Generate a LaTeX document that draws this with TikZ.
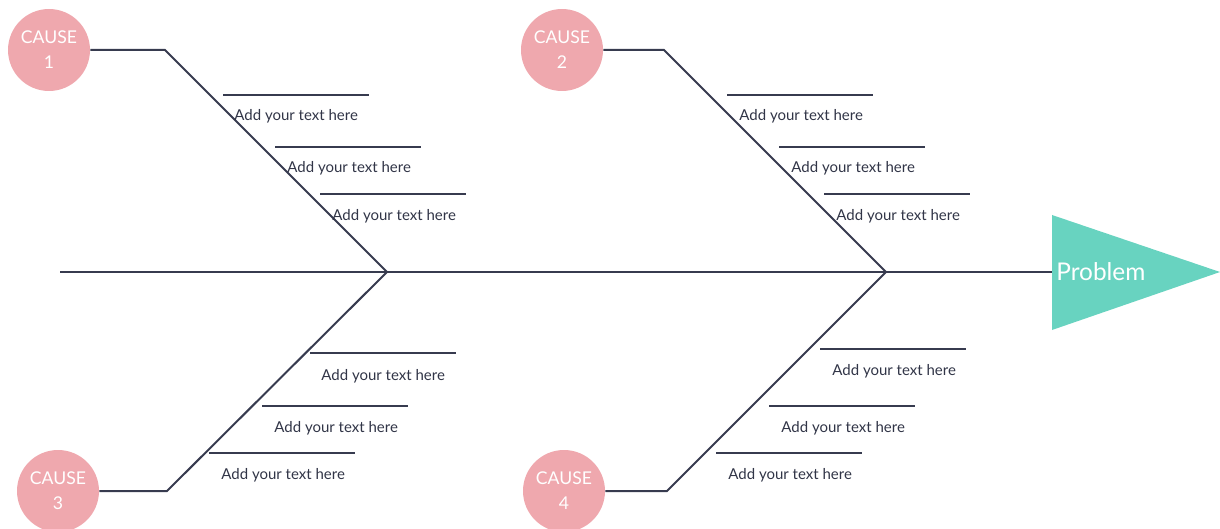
\documentclass[tikz,border=0pt]{standalone}
\usepackage{fontspec}
\setmainfont{Lato}
\usetikzlibrary{positioning}

\definecolor{bonecol}{HTML}{373B4F}
\definecolor{causecol}{HTML}{EFA8AE}
\definecolor{headcol}{HTML}{68D3C0}

\begin{document}
\begin{tikzpicture}[x=0.5pt, y=-0.5pt]
    % Styles
    \tikzset{
        bone/.style={draw=bonecol, line width=1pt},
        cause/.style={circle, fill=causecol, text=white, minimum size=41pt, inner sep=0pt, align=center, font=\fontsize{8.8}{12.5}\selectfont},
        note/.style={anchor=west, inner sep=0pt, text=bonecol!90!black, font=\fontsize{7.5}{9}\selectfont}
    }

    \useasboundingbox (0,0) rectangle (1220,529);

    % --- Head and spine ---
    \fill[headcol] (1052,215) -- (1220,272) -- (1052,330) -- cycle;
    \node[anchor=west, inner sep=0pt, text=white, font=\fontsize{12.2}{14}\selectfont] (problem) at (1056,272) {Problem};
    \coordinate (mouth) at (1052,272);
    \coordinate (tail) at (60,272);
    \coordinate (joint1) at (387,272);
    \coordinate (joint2) at (886,272);
    \draw[bone] (tail) -- (mouth);

    % --- Causes ---
    \node[cause] (cause1) at (49,50) {CAUSE\\1};
    \node[cause] (cause2) at (562,50) {CAUSE\\2};
    \node[cause] (cause3) at (58,491) {CAUSE\\3};
    \node[cause] (cause4) at (564,491) {CAUSE\\4};

    \coordinate (bend1) at (165,50);
    \coordinate (bend2) at (664,50);
    \coordinate (bend3) at (167,491);
    \coordinate (bend4) at (667,491);

    \draw[bone] (cause1.east) -- (bend1) -- (joint1);
    \draw[bone] (cause2.east) -- (bend2) -- (joint2);
    \draw[bone] (cause3.east) -- (bend3) -- (joint1);
    \draw[bone] (cause4.east) -- (bend4) -- (joint2);

    % --- Small bones, cause 1 ---
    \draw[bone] (223,95) -- (369,95);
    \draw[bone] (275,147) -- (421,147);
    \draw[bone] (320,194) -- (466,194);
    \node[note] (note1a) at (234,116) {Add your text here};
    \node[note] (note1b) at (287,168) {Add your text here};
    \node[note] (note1c) at (332,216) {Add your text here};

    % --- Small bones, cause 2 ---
    \draw[bone] (727,95) -- (873,95);
    \draw[bone] (779,147) -- (925,147);
    \draw[bone] (824,194) -- (970,194);
    \node[note] (note2a) at (739,116) {Add your text here};
    \node[note] (note2b) at (791,168) {Add your text here};
    \node[note] (note2c) at (836,216) {Add your text here};

    % --- Small bones, cause 3 ---
    \draw[bone] (310,353) -- (456,353);
    \draw[bone] (262,406) -- (408,406);
    \draw[bone] (209,453) -- (355,453);
    \node[note] (note3a) at (321,376) {Add your text here};
    \node[note] (note3b) at (274,428) {Add your text here};
    \node[note] (note3c) at (221,475) {Add your text here};

    % --- Small bones, cause 4 ---
    \draw[bone] (820,349) -- (966,349);
    \draw[bone] (769,406) -- (915,406);
    \draw[bone] (716,453) -- (862,453);
    \node[note] (note4a) at (832,371) {Add your text here};
    \node[note] (note4b) at (781,428) {Add your text here};
    \node[note] (note4c) at (728,475) {Add your text here};

\end{tikzpicture}
\end{document}
